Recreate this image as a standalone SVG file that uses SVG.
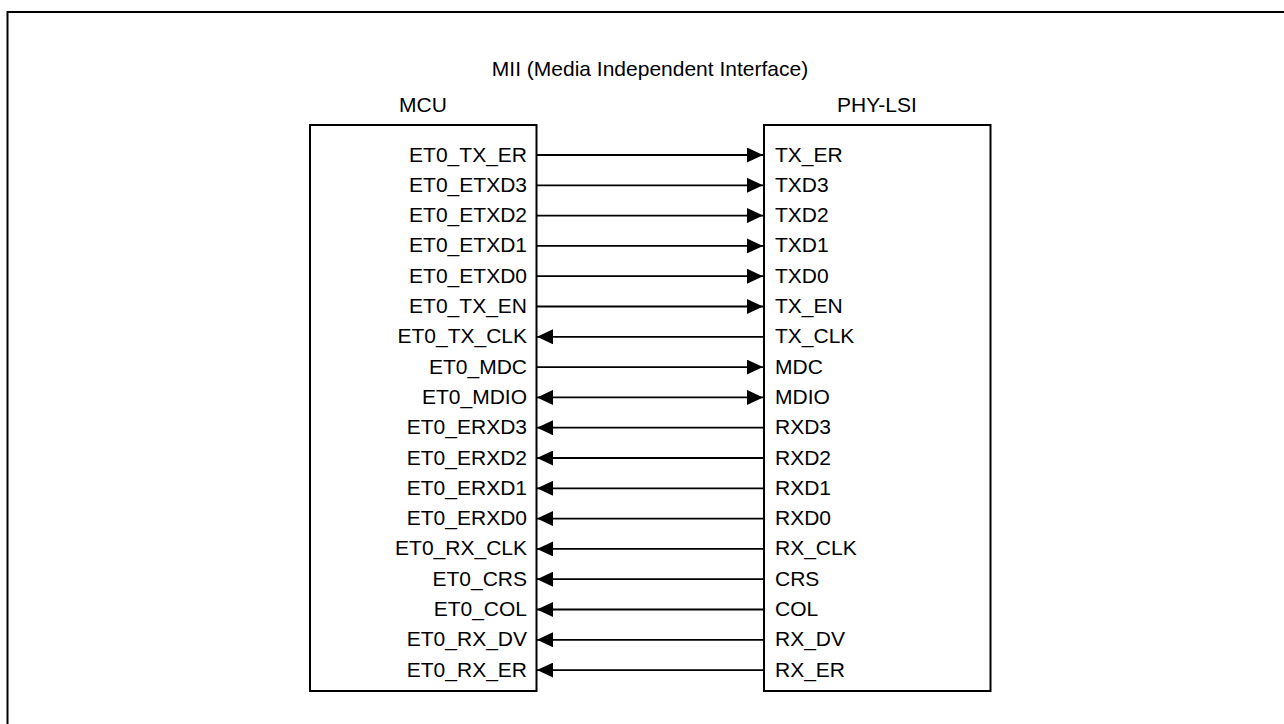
<svg xmlns="http://www.w3.org/2000/svg" width="1284" height="724" viewBox="0 0 1284 724">
<style>
text{font-family:"Liberation Sans",Arial,sans-serif;font-size:21px;fill:#000}
.l{text-anchor:end}
.c{text-anchor:middle}
.box{fill:#fff;stroke:#000;stroke-width:2}
.w{stroke:#000;stroke-width:1.8;fill:none}
</style>
<defs>
<marker id="ah" viewBox="0 0 16 15" refX="16" refY="7.5" markerWidth="16" markerHeight="15" markerUnits="userSpaceOnUse" orient="auto-start-reverse">
<path d="M0,0 L16,7.5 L0,15 Z" fill="#000"/>
</marker>
</defs>
<rect width="1284" height="724" fill="#fff"/>
<path d="M7.5,724 V12 H1284" fill="none" stroke="#000" stroke-width="2"/>
<text class="c" x="650" y="76">MII (Media Independent Interface)</text>
<g id="mcu">
<rect class="box" x="310" y="125" width="226.5" height="566"/>
<text class="c" x="423" y="111.5">MCU</text>
<text class="l" x="527" y="161.5">ET0_TX_ER</text>
<text class="l" x="527" y="191.8">ET0_ETXD3</text>
<text class="l" x="527" y="222.1">ET0_ETXD2</text>
<text class="l" x="527" y="252.4">ET0_ETXD1</text>
<text class="l" x="527" y="282.7">ET0_ETXD0</text>
<text class="l" x="527" y="313">ET0_TX_EN</text>
<text class="l" x="527" y="343.3">ET0_TX_CLK</text>
<text class="l" x="527" y="373.6">ET0_MDC</text>
<text class="l" x="527" y="403.9">ET0_MDIO</text>
<text class="l" x="527" y="434.2">ET0_ERXD3</text>
<text class="l" x="527" y="464.5">ET0_ERXD2</text>
<text class="l" x="527" y="494.8">ET0_ERXD1</text>
<text class="l" x="527" y="525.1">ET0_ERXD0</text>
<text class="l" x="527" y="555.4">ET0_RX_CLK</text>
<text class="l" x="527" y="585.7">ET0_CRS</text>
<text class="l" x="527" y="616">ET0_COL</text>
<text class="l" x="527" y="646.3">ET0_RX_DV</text>
<text class="l" x="527" y="676.6">ET0_RX_ER</text>
</g>
<g id="phy">
<rect class="box" x="764" y="125" width="226.5" height="566"/>
<text class="c" x="877" y="111.5">PHY-LSI</text>
<text x="775" y="161.5">TX_ER</text>
<text x="775" y="191.8">TXD3</text>
<text x="775" y="222.1">TXD2</text>
<text x="775" y="252.4">TXD1</text>
<text x="775" y="282.7">TXD0</text>
<text x="775" y="313">TX_EN</text>
<text x="775" y="343.3">TX_CLK</text>
<text x="775" y="373.6">MDC</text>
<text x="775" y="403.9">MDIO</text>
<text x="775" y="434.2">RXD3</text>
<text x="775" y="464.5">RXD2</text>
<text x="775" y="494.8">RXD1</text>
<text x="775" y="525.1">RXD0</text>
<text x="775" y="555.4">RX_CLK</text>
<text x="775" y="585.7">CRS</text>
<text x="775" y="616">COL</text>
<text x="775" y="646.3">RX_DV</text>
<text x="775" y="676.6">RX_ER</text>
</g>
<g id="connectors" class="w">
<path d="M537,155 H763" marker-end="url(#ah)"/>
<path d="M537,185.3 H763" marker-end="url(#ah)"/>
<path d="M537,215.6 H763" marker-end="url(#ah)"/>
<path d="M537,245.9 H763" marker-end="url(#ah)"/>
<path d="M537,276.2 H763" marker-end="url(#ah)"/>
<path d="M537,306.5 H763" marker-end="url(#ah)"/>
<path d="M537,336.8 H763" marker-start="url(#ah)"/>
<path d="M537,367.1 H763" marker-end="url(#ah)"/>
<path d="M537,397.4 H763" marker-start="url(#ah)" marker-end="url(#ah)"/>
<path d="M537,427.7 H763" marker-start="url(#ah)"/>
<path d="M537,458 H763" marker-start="url(#ah)"/>
<path d="M537,488.3 H763" marker-start="url(#ah)"/>
<path d="M537,518.6 H763" marker-start="url(#ah)"/>
<path d="M537,548.9 H763" marker-start="url(#ah)"/>
<path d="M537,579.2 H763" marker-start="url(#ah)"/>
<path d="M537,609.5 H763" marker-start="url(#ah)"/>
<path d="M537,639.8 H763" marker-start="url(#ah)"/>
<path d="M537,670.1 H763" marker-start="url(#ah)"/>
</g>
</svg>
